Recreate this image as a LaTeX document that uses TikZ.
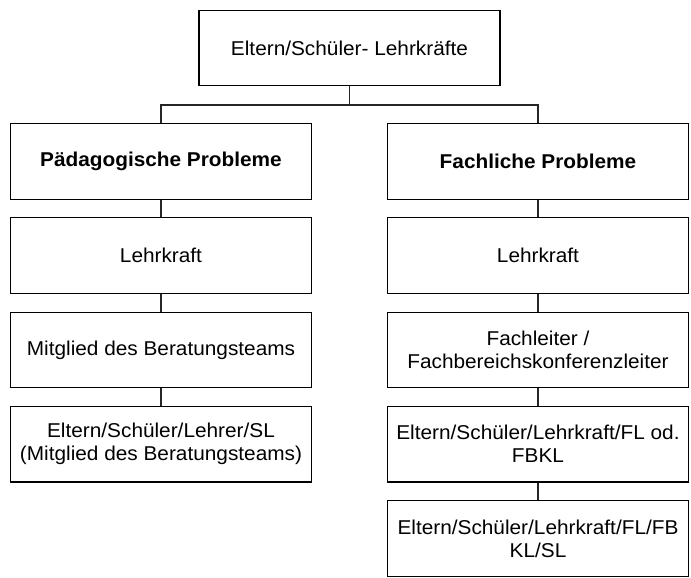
\documentclass[tikz,border=0pt]{standalone}
\usepackage{fontspec}
\setmainfont[FakeStretch=1.04]{Liberation Sans}
\usetikzlibrary{%
  matrix,%
  calc%
}

\begin{document}
\begin{tikzpicture}[x=1pt,y=1pt,color=black!85,line width=1.1pt,
  head/.style={font=\fontsize{20pt}{23pt}\selectfont\bfseries}]
\useasboundingbox (0,0) rectangle (691,-578);

\matrix[matrix of nodes,inner sep=0pt,column sep={188.5pt,between origins},row sep={94.3pt,between origins},nodes={draw,text=black,text width=293pt,inner xsep=4pt,minimum width=301pt,minimum height=75.5pt,align=flush center,anchor=center,font=\fontsize{20pt}{23pt}\selectfont}] (s) at (349.5,-293.2)
{
&|[name=E]| Eltern/Schüler- Lehrkräfte & \\[19.1pt]
%
|[name=P1,head]| Pädagogische Probleme & &|[name=F1,head]| Fachliche Probleme \\
%
|[name=P2]| Lehrkraft & &|[name=F2]| Lehrkraft \\
%
|[name=P3]| Mitglied des Beratungsteams & &|[name=F3]| Fachleiter~/ Fachbereichskonferenzleiter \\
%
|[name=P4]| Eltern/Schüler/Lehrer/SL (Mitglied des Beratungsteams) & &|[name=F4]| Eltern/Schüler/Lehrkraft/FL~od. FBKL \\
%
& &|[name=F5]| Eltern/Schüler/Lehrkraft/FL/FB KL/SL \\
};
\draw (E.south) -- ++(0,-18.8) -| (P1.north)
      (E.south) -- ++(0,-18.8) -| (F1.north);
\draw (P1) edge (P2)
      (P2) edge (P3)
      (P3) edge (P4)
      (F1) edge (F2)
      (F2) edge (F3)
      (F3) edge (F4)
      (F4) edge (F5)
;
\end{tikzpicture}
\end{document}
